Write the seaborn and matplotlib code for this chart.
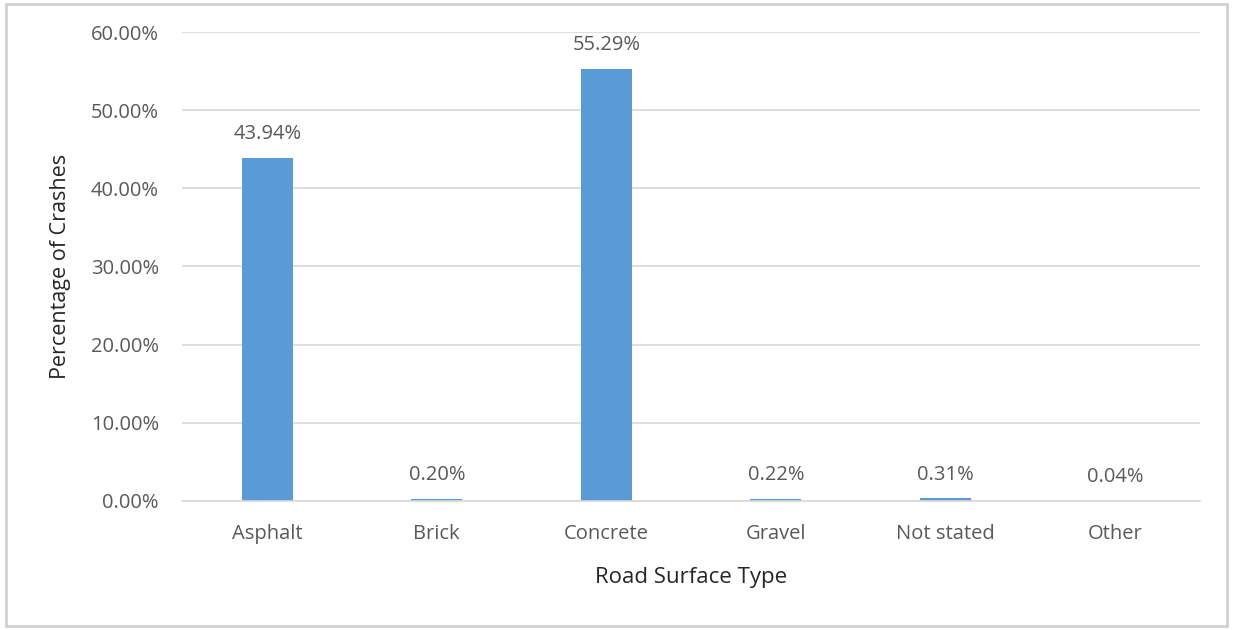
import matplotlib
matplotlib.use("Agg")
import matplotlib.pyplot as plt
import seaborn as sns
import pandas as pd
from matplotlib.patches import Rectangle
from matplotlib.ticker import PercentFormatter

surface_types = ["Asphalt", "Brick", "Concrete", "Gravel", "Not stated", "Other"]
crash_pct = [43.94, 0.20, 55.29, 0.22, 0.31, 0.04]

df = pd.DataFrame({"surface": surface_types, "pct": crash_pct})

sns.set_theme(style="white")
plt.rcParams["font.family"] = ["Open Sans", "DejaVu Sans"]
text_col = "#595959"

fig = plt.figure(figsize=(12.33, 6.3), dpi=100)
ax = fig.add_axes([0.148, 0.205, 0.825, 0.744])

sns.barplot(data=df, x="surface", y="pct", color="#5B9BD5", width=0.30,
            saturation=1, linewidth=0, ax=ax)

ax.bar_label(ax.containers[0], labels=[f"{v:.2f}%" for v in crash_pct],
             padding=10, fontsize=14.5, color=text_col)

ax.set_ylim(0, 60)
ax.set_yticks(range(0, 61, 10))
ax.yaxis.set_major_formatter(PercentFormatter(decimals=2))
ax.yaxis.grid(True, color="#d9d9d9", linewidth=1.2)
ax.set_axisbelow(True)
for s in ["top", "right", "left"]:
    ax.spines[s].set_visible(False)
ax.spines["bottom"].set_color("#d9d9d9")
ax.spines["bottom"].set_linewidth(1.2)
ax.tick_params(axis="both", length=0, labelsize=14.5, colors=text_col)
ax.tick_params(axis="x", pad=17)
ax.tick_params(axis="y", pad=17)

ax.set_xlabel("Road Surface Type", fontsize=16, color="#262626", labelpad=16)
ax.set_ylabel("Percentage of Crashes", fontsize=15.5, color="#262626", labelpad=14)

fig.patches.append(Rectangle((0.005, 0.006), 0.99, 0.988, transform=fig.transFigure,
                             fill=False, edgecolor="#d0d0d0", linewidth=2))

fig.savefig("out.png", dpi=100, facecolor="white")
